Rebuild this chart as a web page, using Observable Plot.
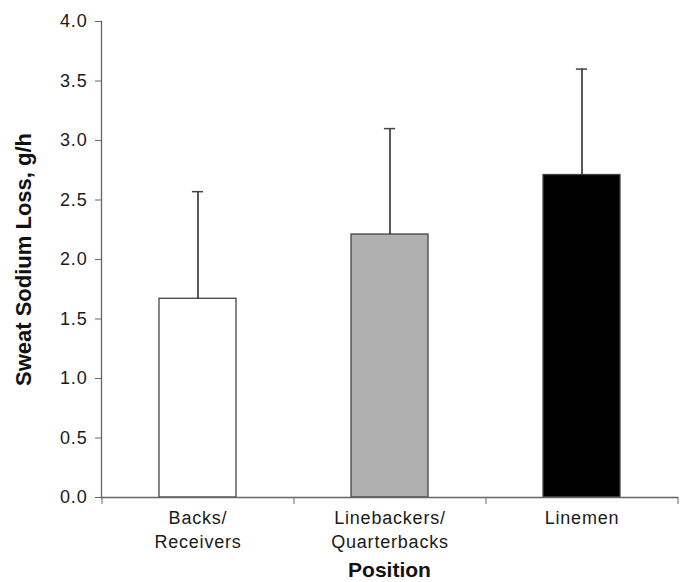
<!DOCTYPE html>
<html>
<head>
<meta charset="utf-8">
<script src="https://cdn.jsdelivr.net/npm/d3@7"></script>
<script src="https://cdn.jsdelivr.net/npm/@observablehq/plot@0.6"></script>
<style>
  html, body { margin: 0; padding: 0; background: #fff; }
  svg text { font-family: "Liberation Sans", Arial, sans-serif; }
  .ticklab text { letter-spacing: 0.8px; font-size: 18px; }
</style>
</head>
<body>
<div id="chart"></div>
<script>
const categories = ["Backs/\nReceivers", "Linebackers/\nQuarterbacks", "Linemen"];
const means = [1.67, 2.21, 2.71];
const upper = [2.57, 3.10, 3.60];
const fills = ["#ffffff", "#b0b0b0", "#000000"];
const yTicks = [0, 0.5, 1.0, 1.5, 2.0, 2.5, 3.0, 3.5, 4.0];
const yLabel = "Sweat Sodium Loss, g/h";
const xLabel = "Position";

const data = categories.map((c, i) => ({cat: c, mean: means[i], upper: upper[i], fill: fills[i]}));

const W = 683, H = 582, mL = 101, mR = 6, mT = 21, mB = 85;
const step = (W - mL - mR) / categories.length;

const chart = Plot.plot({
  width: W,
  height: H,
  marginLeft: mL,
  marginRight: mR,
  marginTop: mT,
  marginBottom: mB,
  style: {fontFamily: "Liberation Sans, Arial, sans-serif", fontSize: "18px", background: "#fff", color: "#1a1a1a"},
  x: {domain: categories, paddingInner: 0.6, paddingOuter: 0.3, axis: null},
  y: {domain: [0, 4], axis: null},
  marks: [
    Plot.barY(data, {x: "cat", y: "mean", fill: "fill", stroke: "#444", strokeWidth: 1.3}),
    Plot.ruleX(data, {x: "cat", y1: "mean", y2: "upper", stroke: "#222", strokeWidth: 1.5}),
    Plot.tickY(data, {x: "cat", y: "upper", stroke: "#444", strokeWidth: 1.5, inset: (step * 0.4 - 11) / 2}),
    Plot.frame({anchor: "left", stroke: "#666", strokeWidth: 1.3}),
    Plot.frame({anchor: "bottom", stroke: "#666", strokeWidth: 1.3}),
    Plot.axisY({ticks: yTicks, tickFormat: d3.format(".1f"), tickSize: 6, tickPadding: 8, fontSize: 18, stroke: "#666", fill: "#1a1a1a", label: null, className: "ticklab"}),
    Plot.axisX({ticks: categories, tickSize: 7, tickFormat: () => "", dx: -step / 2, stroke: "#666", label: null}),
    Plot.axisX({ticks: [categories[categories.length - 1]], tickSize: 7, tickFormat: () => "", dx: step / 2, stroke: "#666", label: null}),
    Plot.axisX({ticks: categories, tickSize: 0, tickPadding: 10, fontSize: 18, lineHeight: 1.33, fill: "#1a1a1a", label: null, className: "ticklab"}),
    Plot.text([yLabel], {frameAnchor: "left", textAnchor: "middle", rotate: -90, dx: -78, fontSize: 22, fontWeight: "bold", fill: "#111"}),
    Plot.text([xLabel], {frameAnchor: "bottom", dy: 79, fontSize: 21, fontWeight: "bold", fill: "#111"})
  ]
});
document.getElementById("chart").appendChild(chart);
</script>
</body>
</html>
